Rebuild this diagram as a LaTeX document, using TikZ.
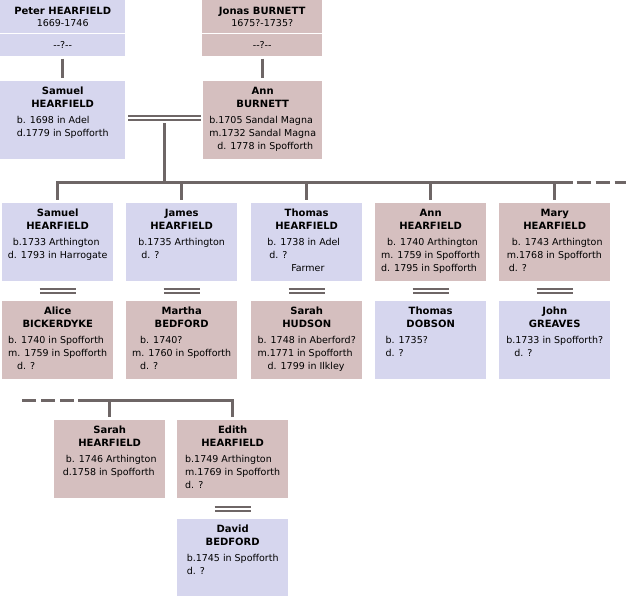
\documentclass[tikz,border=0pt]{standalone}
\usepackage{fontspec}
\setmainfont{DejaVu Sans}
\definecolor{blu}{RGB}{214,214,238}
\definecolor{pnk}{RGB}{213,191,191}
\definecolor{lin}{RGB}{110,102,102}
\tikzset{
  pbox/.style={rectangle, anchor=north west, inner sep=0pt, minimum width=111pt, minimum height=78pt},
  nm/.style={anchor=base, align=center, inner sep=0pt, font=\bfseries\fontsize{10}{12.5}\selectfont},
  info/.style={anchor=base, align=left, inner sep=0pt, font=\fontsize{9.5}{13}\selectfont},
  kin/.style={draw=lin, line width=3pt},
  wed/.style={draw=lin, line width=2pt, double=white, double distance=2pt},
  dashkin/.style={kin, dash pattern=on 14pt off 5pt}
}
\newcommand{\person}[7][]{%
  \node[pbox, fill=#5] (#2) at (#3,#4) {};
  \node[nm, anchor=north] (#2n) at ([yshift=-6.1pt]#2.north) {#6};
  \node[info, anchor=north, #1] (#2i) at ([yshift=-35.5pt]#2.north) {#7};}
\begin{document}
\begin{tikzpicture}[x=1pt, y=-1pt, line join=miter]
\useasboundingbox (0,0) rectangle (626,596);
\node[pbox, fill=blu, minimum width=125pt, minimum height=33pt] (peter) at (0,0) {};
\node[nm] (petern) at ([yshift=-15pt]peter.north) {Peter HEARFIELD};
\node[info] (peterd) at ([yshift=-11.7pt]petern.base) {1669-1746};
\node[pbox, fill=blu, minimum width=125pt, minimum height=22pt] (peterq) at (0,34) {};
\node[info, anchor=center] (peterqt) at (peterq.center) {-\kern0pt-?-\kern0pt-};
\node[pbox, fill=pnk, minimum width=120pt, minimum height=33pt] (jonas) at (202,0) {};
\node[nm] (jonasn) at ([yshift=-15pt]jonas.north) {Jonas BURNETT};
\node[info] (jonasd) at ([yshift=-11.7pt]jonasn.base) {1675?-1735?};
\node[pbox, fill=pnk, minimum width=120pt, minimum height=22pt] (jonasq) at (202,34) {};
\node[info, anchor=center] (jonasqt) at (jonasq.center) {-\kern0pt-?-\kern0pt-};
\begin{scope}[pbox/.append style={minimum width=125pt}]
\person{sam}{0}{81}{blu}{Samuel\\HEARFIELD}{b. 1698 in Adel\\d.1779 in Spofforth}
\end{scope}
\begin{scope}[pbox/.append style={minimum width=119pt}]
\person{ann}{203}{81}{pnk}{Ann\\BURNETT}{b.1705 Sandal Magna\\m.1732 Sandal Magna\\\hspace*{8pt}d. 1778 in Spofforth}
\end{scope}
\draw[kin, shorten <=2.3pt, shorten >=3pt] (peterq.south) -- (sam.north);
\draw[kin, shorten <=2.3pt, shorten >=3pt] (jonasq.south) -- (jonasq.south |- ann.north);
\draw[wed] ([xshift=3pt,yshift=2.5pt]sam.east) -- ([xshift=-2pt,yshift=2.5pt]ann.west);
\path ([yshift=2.5pt]sam.east) -- ([yshift=2.5pt]ann.west) coordinate[midway] (m0);
\person{c1}{2}{203}{blu}{Samuel\\HEARFIELD}{\hspace*{5pt}b.1733 Arthington\\d. 1793 in Harrogate}
\person{c2}{126}{203}{blu}{James\\HEARFIELD}{b.1735 Arthington\\\hspace*{3pt}d. ?}
\person[xshift=-3pt]{c3}{251}{203}{blu}{Thomas\\HEARFIELD}{b. 1738 in Adel\\\hspace*{2pt}d. ?\\\hspace*{24pt}Farmer}
\person{c4}{375}{203}{pnk}{Ann\\HEARFIELD}{\hspace*{6pt}b. 1740 Arthington\\m. 1759 in Spofforth\\d. 1795 in Spofforth}
\person{c5}{499}{203}{pnk}{Mary\\HEARFIELD}{\hspace*{5pt}b. 1743 Arthington\\m.1768 in Spofforth\\\hspace*{2pt}d. ?}
\person{w1}{2}{301}{pnk}{Alice\\BICKERDYKE}{b. 1740 in Spofforth\\m. 1759 in Spofforth\\\hspace*{9pt}d. ?}
\person{w2}{126}{301}{pnk}{Martha\\BEDFORD}{\hspace*{8pt}b. 1740?\\m. 1760 in Spofforth\\\hspace*{8pt}d. ?}
\person{w3}{251}{301}{pnk}{Sarah\\HUDSON}{b. 1748 in Aberford?\\m.1771 in Spofforth\\\hspace*{10pt}d. 1799 in Ilkley}
\person[xshift=-24pt]{w4}{375}{301}{blu}{Thomas\\DOBSON}{b. 1735?\\d. ?}
\person{w5}{499}{301}{blu}{John\\GREAVES}{b.1733 in Spofforth?\\\hspace*{8pt}d. ?}
\person{s1}{54}{420}{pnk}{Sarah\\HEARFIELD}{\hspace*{3pt}b. 1746 Arthington\\d.1758 in Spofforth}
\person{s2}{177}{420}{pnk}{Edith\\HEARFIELD}{b.1749 Arthington\\m.1769 in Spofforth\\d. ?}
\person{d1}{177}{519}{blu}{David\\BEDFORD}{b.1745 in Spofforth\\d. ?}
\coordinate (sib) at (0,183);
\draw[kin] ([yshift=-5.5pt]m0) -- (m0 |- sib);
\draw[kin] ([yshift=3pt]c1.north) -- (c1.north |- sib) -- ([xshift=18pt]c5.north |- sib);
\draw[dashkin] ([xshift=22pt]c5.north |- sib) -- ([xshift=72pt]c5.north |- sib);
\foreach \c in {c2,c3,c4,c5}
  \draw[kin] (\c.north |- sib) -- ([yshift=3pt]\c.north);
\foreach \a/\b in {c1/w1,c2/w2,c3/w3,c4/w4,c5/w5,s2/d1}{
  \path (\a.south) -- (\b.north) coordinate[midway] (\a m);
  \draw[wed] ([xshift=-18pt]\a m) -- ([xshift=18pt]\a m);
}
\coordinate (sib2) at (0,400);
\draw[kin] ([yshift=3pt]s2.north) -- (s2.north |- sib2) -- ([xshift=-32pt]s1.north |- sib2);
\draw[dashkin] ([xshift=-36pt]s1.north |- sib2) -- ([xshift=-88pt]s1.north |- sib2);
\draw[kin] (s1.north |- sib2) -- ([yshift=3pt]s1.north);
\end{tikzpicture}
\end{document}
